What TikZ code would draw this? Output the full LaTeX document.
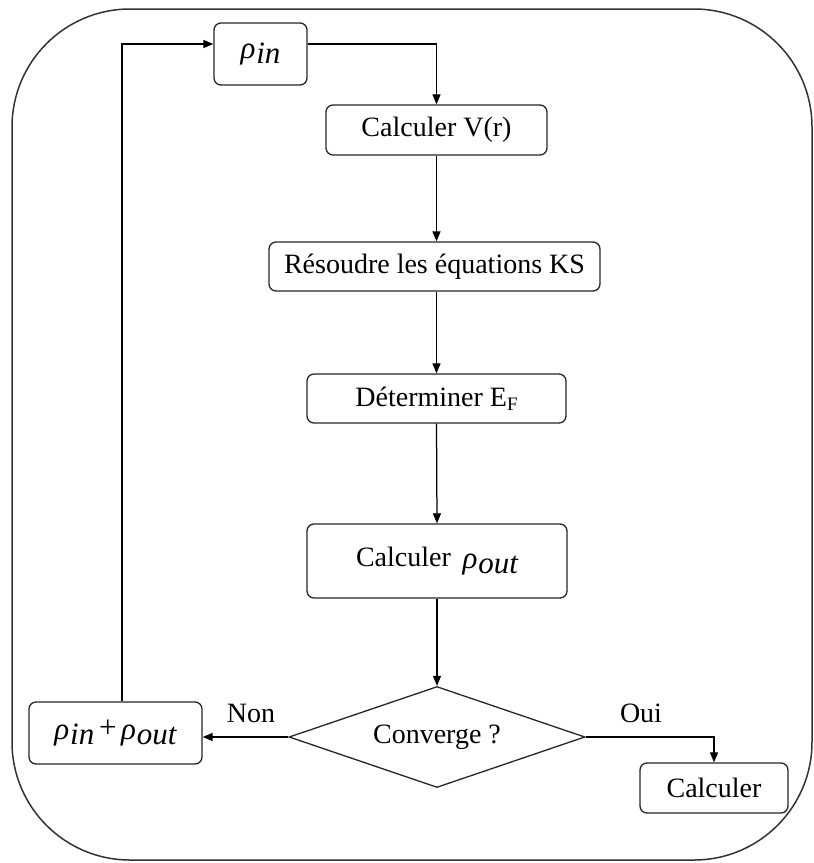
\documentclass[tikz,border=0pt]{standalone}
\usepackage{fontspec}
\setmainfont{Liberation Serif}
\usetikzlibrary{arrows.meta,shapes.geometric}
\newcommand{\rhosub}[1]{{\itshape ρ\kern0.03em\raisebox{-0.35ex}{#1}}}
\begin{document}
\begin{tikzpicture}[x=1pt,y=-1pt,
  box/.style={draw=black!85, line width=1.3pt, rounded corners=7pt, inner sep=0pt,
    font=\fontsize{28}{32}\selectfont},
  rhobox/.style={box, font=\fontsize{31}{34}\selectfont},
  arr/.style={-{Triangle[length=10pt,width=8pt]}, line width=1.25pt, draw=black},
  lbl/.style={font=\fontsize{28}{32}\selectfont, inner sep=0pt}]
\useasboundingbox (0,0) rectangle (814,863);
\draw[line width=1.5pt, draw=black!80, rounded corners=118pt] (12,9) rectangle (812,860);

\node[rhobox, minimum width=93pt, minimum height=62pt] (rin) at (260.5,54) {\rhosub{in}};
\node[box, minimum width=221pt, minimum height=50pt] (cv) at (436.5,130) {Calculer V(r)};
\node[box, minimum width=331pt, minimum height=49pt] (res) at (434.5,266.5) {Résoudre les équations KS};
\node[box, minimum width=259pt, minimum height=49pt] (det) at (436.5,398.5) {Déterminer E\raisebox{-0.3ex}{\fontsize{19}{20}\selectfont F}};
\node[box, minimum width=260pt, minimum height=74pt] (cro) at (437,561) {Calculer \,\raisebox{-0.1ex}{\fontsize{31}{34}\selectfont\rhosub{out}}};
\node[draw=black!85, line width=1.3pt, shape=diamond, aspect=2.93, minimum width=296pt, minimum height=101pt, inner sep=0pt, font=\fontsize{28}{32}\selectfont] (conv) at (437,737) {Converge ?};
\node[rhobox, minimum width=173pt, minimum height=62pt] (prp) at (115.5,733) {\rhosub{in}\kern0.15em\raisebox{0.15ex}{+}\kern0.15em\rhosub{out}};
\node[box, minimum width=148pt, minimum height=50pt] (calc) at (714,788) {Calculer};

\node[lbl] (non) at (251,713) {Non};
\node[lbl] (oui) at (641,713) {Oui};

\draw[arr] ([yshift=10pt]rin.east) -| (cv.north);
\draw[arr] (cv.south) -- (cv.south |- res.north);
\draw[arr] (cv.south |- res.south) -- (det.north);
\draw[arr] (det.south) -- (cro.north);
\draw[arr] (cro.south) -- (conv.north);
\draw[arr] (conv.west) -- (conv.west -| prp.east);
\draw[arr] (conv.east) -| (calc.north);
\draw[arr] ([xshift=6.5pt]prp.north) |- ([yshift=10pt]rin.west);
\end{tikzpicture}
\end{document}
